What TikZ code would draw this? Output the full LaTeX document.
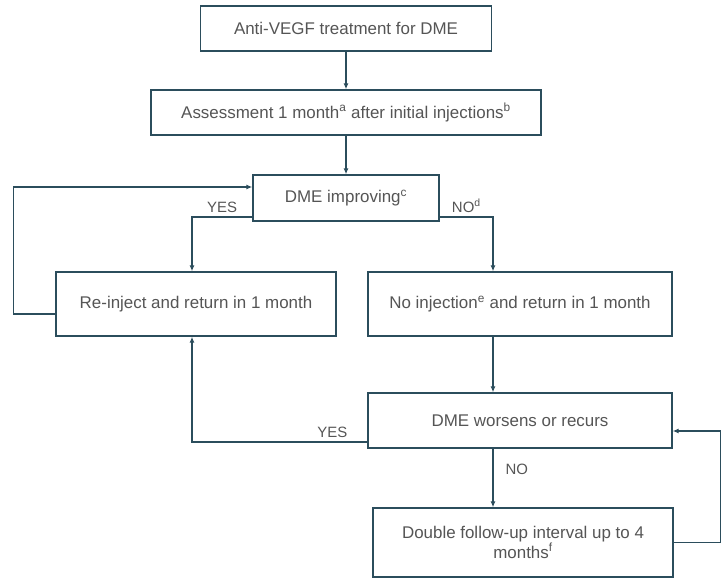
\documentclass[tikz,border=0pt]{standalone}
\usepackage{fontspec}
\setmainfont{Liberation Sans}
\usetikzlibrary{arrows.meta,positioning,calc}
\definecolor{linec}{HTML}{2B4D5C}
\definecolor{textc}{HTML}{555555}

\begin{document}
\begin{tikzpicture}[x=1bp,y=-1bp,
        box/.style={draw=linec,line width=1.3bp,fill=white,text=textc,inner sep=0pt,align=center,font=\fontsize{17}{18}\selectfont},
        arr/.style={draw=linec,line width=1.3bp,-{Latex[length=6bp,width=5bp]}},
        lbl/.style={text=textc,inner sep=0pt,font=\fontsize{15}{18}\selectfont}]
        \useasboundingbox(0,0)rectangle(722,578);
        \coordinate(spineL)at(192,0);
        \coordinate(spineR)at(493,0);
        \node[box,minimum width=291bp,minimum height=45bp](treat)at(346,28.5){Anti-VEGF treatment for DME};
        \node[box,minimum width=390bp,minimum height=45bp](assess)at(346,112.5){Assessment 1 month\textsuperscript{a} after initial injections\textsuperscript{b}};
        \node[box,minimum width=186bp,minimum height=46bp](improve)at(346,198){DME improving\textsuperscript{c}};
        \node[box,minimum width=280bp,minimum height=64bp](reinject)at(196,304){Re-inject and return in 1 month};
        \node[box,minimum width=304bp,minimum height=64bp](noinj)at(520,304){No injection\textsuperscript{e} and return in 1 month};
        \node[box,minimum width=304bp,minimum height=55bp](worse)at(520,420.5){DME worsens or recurs};
        \node[box,minimum width=300bp,minimum height=69bp](double)at(523,542.5){Double follow-up interval up to 4\\months\textsuperscript{f}};
        \draw[arr](treat)--(assess);
        \draw[arr](assess)--(improve);
        \draw[arr]([yshift=-19bp]improve.west)-|(reinject.north-|spineL)node[lbl,pos=0.25,above=4bp]{YES};
        \draw[arr]([yshift=-19bp]improve.east)-|(noinj.north-|spineR)node[lbl,pos=0.25,above=4bp]{NO\textsuperscript{d}};
        \draw[arr]([yshift=-10bp]reinject.west)--++(-42,0)|-([yshift=11bp]improve.west);
        \draw[arr](noinj.south-|spineR)--(worse.north-|spineR);
        \draw[arr]([yshift=-21.5bp]worse.west)-|(reinject.south-|spineL)node[lbl,pos=0.1,above=4bp]{YES};
        \draw[arr](worse.south-|spineR)--(double.north-|spineR)node[lbl,pos=0.35,right=12bp]{NO};
        \draw[arr](double.east)--++(47,0)|-([yshift=-10.5bp]worse.east);
    \end{tikzpicture}
\end{document}
